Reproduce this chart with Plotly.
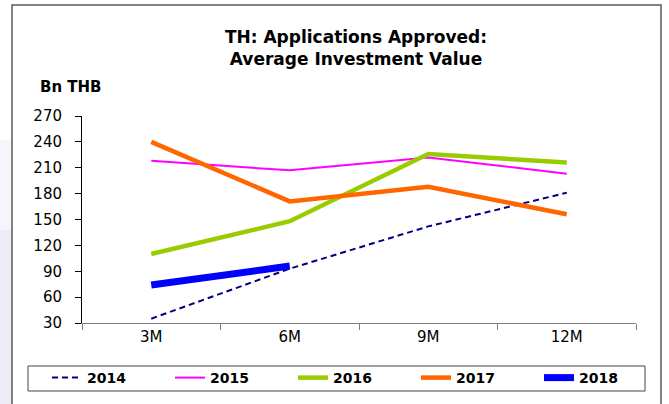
import plotly.graph_objects as go

# Average investment value of approved applications, cumulative by period (Bn THB)
periods = ["3M", "6M", "9M", "12M"]
v2014 = [35, 93, 142, 181]
v2015 = [218, 207, 222, 203]
v2016 = [110, 148, 226, 216]
v2017 = [240, 171, 188, 156]
v2018 = [74, 96]

W, H = 669, 404
ML, MR, MT, MB = 82, 33, 116, 81
PW, PH = W - ML - MR, H - MT - MB


def px_x(x):
    return (x - ML) / PW


def px_y(y):
    return (H - MB - y) / PH


FONT = "DejaVu Sans"

series = [
    ("2014", v2014, dict(color="#000080", width=2, dash="6px,4px")),
    ("2015", v2015, dict(color="#FF00FF", width=2)),
    ("2016", v2016, dict(color="#99CC00", width=4.5)),
    ("2017", v2017, dict(color="#FF6600", width=4.5)),
    ("2018", v2018, dict(color="#0000FF", width=7)),
]

fig = go.Figure()
for name, vals, line in series:
    fig.add_trace(go.Scatter(
        x=periods[:len(vals)], y=vals, name=name, mode="lines", line=line,
    ))

fig.update_layout(
    width=W, height=H,
    margin=dict(l=ML, r=MR, t=MT, b=MB, autoexpand=False),
    paper_bgcolor="white", plot_bgcolor="white",
    font=dict(family=FONT, size=15, color="black"),
    showlegend=True,
    legend=dict(
        orientation="h", x=px_x(47), xanchor="left", y=px_y(362), yanchor="top",
        bgcolor="rgba(0,0,0,0)", borderwidth=0,
        font=dict(family=FONT, size=14, color="black", weight="bold"),
        entrywidth=78, entrywidthmode="pixels",
    ),
    title=dict(
        text="TH: Applications Approved:<br>Average Investment Value",
        x=356 / W, xanchor="center", y=1 - 43 / H, yanchor="middle",
        font=dict(family=FONT, size=17, color="black", weight="bold"),
    ),
)

fig.update_xaxes(
    type="category", range=[-0.5, 3.5], tickson="boundaries",
    ticks="outside", ticklen=6, tickcolor="#808080",
    showline=True, linecolor="#808080", linewidth=1,
    showgrid=False, zeroline=False,
    tickfont=dict(family=FONT, size=15, color="black"),
)
fig.update_yaxes(
    range=[30, 270], dtick=30, tick0=30,
    ticks="outside", ticklen=6, tickcolor="black",
    showline=True, linecolor="black", linewidth=1,
    showgrid=False, zeroline=False, ticklabelstandoff=10,
    tickfont=dict(family=FONT, size=15, color="black"),
)

fig.add_annotation(
    text="<b>Bn THB</b>", xref="paper", yref="paper",
    x=px_x(38), xanchor="left", y=px_y(87), yanchor="middle",
    showarrow=False, font=dict(family=FONT, size=15, color="black"),
)

# soft lavender edge outside the chart frame
fig.add_shape(type="rect", xref="paper", yref="paper",
              x0=px_x(0), x1=px_x(11), y0=px_y(230), y1=px_y(140),
              fillcolor="#f5f5fb", line_width=0, layer="below")
fig.add_shape(type="rect", xref="paper", yref="paper",
              x0=px_x(0), x1=px_x(11), y0=px_y(410), y1=px_y(230),
              fillcolor="#ededf7", line_width=0, layer="below")

# chart frame
fig.add_shape(type="rect", xref="paper", yref="paper",
              x0=px_x(12), x1=px_x(661), y0=px_y(410), y1=px_y(5),
              line=dict(color="#5a5a5a", width=1.5), fillcolor="rgba(0,0,0,0)",
              layer="below")

# legend box
fig.add_shape(type="rect", xref="paper", yref="paper",
              x0=px_x(28), x1=px_x(645), y0=px_y(391), y1=px_y(366),
              line=dict(color="#444444", width=1), fillcolor="white",
              layer="below")

fig.write_html("out.html")
